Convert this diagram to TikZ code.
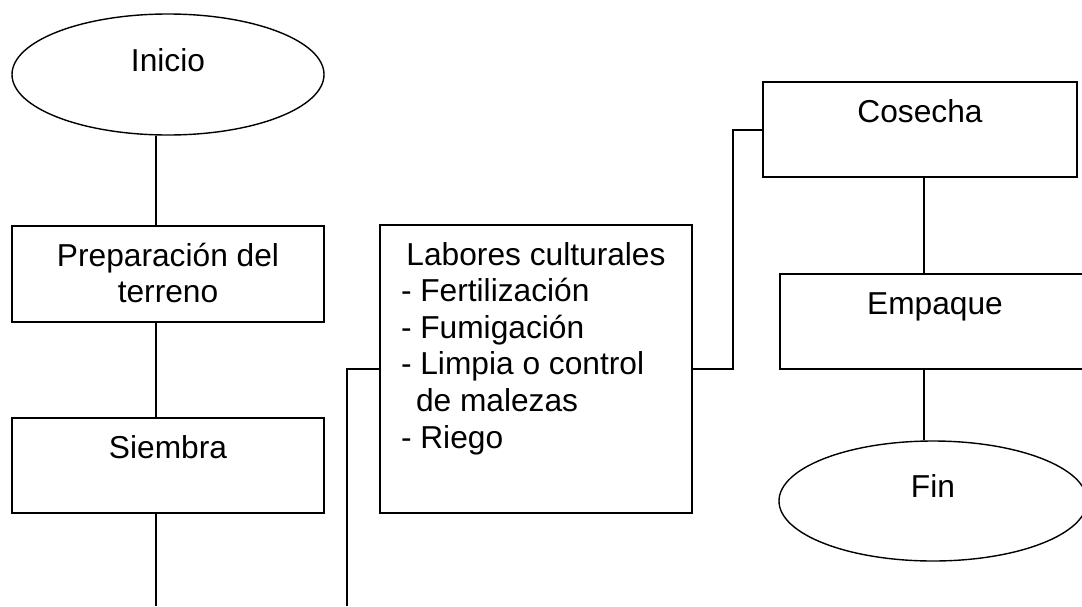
\documentclass[tikz,border=0pt]{standalone}
\usepackage{fontspec}
\setmainfont{Liberation Sans}
\usetikzlibrary{shapes.geometric, positioning, calc}

% texto arriba dentro de una caja de tamano fijo
\newcommand{\textocaja}[3]{\parbox[c][#2][t]{#1}{\centering\rule{0pt}{20pt}#3}}

\begin{document}
\begin{tikzpicture}[
        x=0.5pt, y=-0.5pt, % coordenadas en pixeles
        font=\fontsize{15.85}{18.3}\selectfont,
        terminal/.style={ellipse, draw, line width=0.7pt, inner sep=0pt, text height=8pt, text depth=11.5pt},
        paso/.style={rectangle, draw, line width=1pt, inner sep=0pt},
        linea/.style={line width=1pt}
      ]
        \clip (0,0) rectangle (1082,606);

        % Columna izquierda
        \node[terminal, minimum width=156pt, minimum height=60.5pt] (inicio) at (168,74.5) {Inicio};
        \node[paso] (prep) at (168,274) {\textocaja{156pt}{48pt}{Preparación del\\terreno}};
        \node[paso] (siembra) at (168,465.5) {\textocaja{156pt}{47.5pt}{Siembra}};
        \coordinate (salida) at (156,606);

        % Labores
        \node[paso] (labores) at (536,369) {\parbox[c][144pt][t]{156pt}{\rule{0pt}{20pt}\makebox[156pt]{Labores culturales}\\
            \hspace*{10.5pt}- Fertilización\\
            \hspace*{10.5pt}- Fumigación\\
            \hspace*{10.5pt}- Limpia o control\\
            \hspace*{18pt}de malezas\\
            \hspace*{10.5pt}- Riego}};
        \coordinate (entrada) at (347,606);

        % Columna derecha
        \node[paso] (cosecha) at (920,129.5) {\textocaja{157pt}{47.5pt}{Cosecha}};
        \node[paso] (empaque) at (935,321.5) {\textocaja{155pt}{47.5pt}{Empaque}};
        \node[terminal, minimum width=154pt, minimum height=60pt] (fin) at (933,501) {Fin};

        % Conexiones
        \draw[linea] ([xshift=-6pt]inicio.south) -- ([xshift=-6pt]prep.north);
        \draw[linea] ([xshift=-6pt]prep.south) -- ([xshift=-6pt]siembra.north);
        \draw[linea] ([xshift=-6pt]siembra.south) -- (salida);
        \draw[linea] (entrada) |- (labores.west);
        \draw[linea] (labores.east) -- ++(40,0) |- (cosecha.west);
        \draw[linea] ([xshift=2pt]cosecha.south) -- ([xshift=2pt]cosecha.south |- empaque.north);
        \draw[linea] ([xshift=-5.5pt]empaque.south) -- ([xshift=-5.5pt]empaque.south |- fin.north);
\end{tikzpicture}
\end{document}
